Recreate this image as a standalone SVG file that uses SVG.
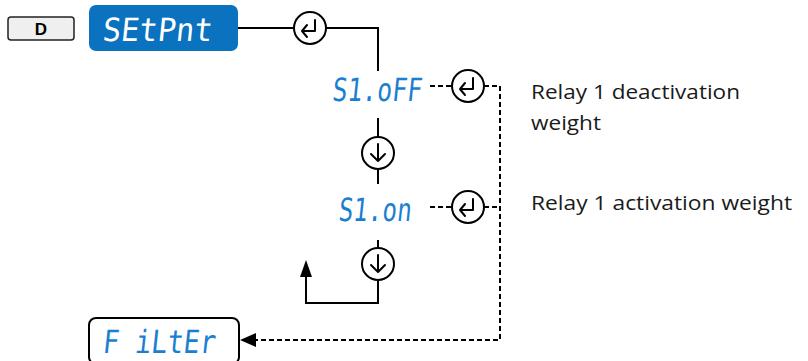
<svg xmlns="http://www.w3.org/2000/svg" width="808" height="361" viewBox="0 0 808 361">
<defs>
<style>
.seg{font-family:"DejaVu Sans Mono","Liberation Mono",monospace;fill:#1b7fd1;font-size:32px;}
.segw{font-family:"DejaVu Sans Mono","Liberation Mono",monospace;fill:#ffffff;font-size:32px;}
.lbl{font-family:"Open Sans",Lato,sans-serif;font-size:19.5px;fill:#1a1a1a;}
.ln{fill:none;stroke:#000;stroke-width:2;}
.dash{fill:none;stroke:#000;stroke-width:2;stroke-dasharray:5 3;}
.btn{fill:#fff;stroke:#000;stroke-width:2;}
.ico{fill:none;stroke:#000;stroke-width:2;stroke-linecap:round;stroke-linejoin:round;}
</style>
<g id="enter"><circle class="btn" cx="0" cy="0" r="16"/><path class="ico" d="M5,-8 V3 H-8 M-3,-3 L-8,3 L-3,9"/></g>
<g id="down"><circle class="btn" cx="0" cy="0" r="16"/><path class="ico" d="M0,-9 V8 M-7,1 L0,8 L7,1"/></g>
</defs>
<rect width="808" height="361" fill="#fff"/>
<g id="connectors">
<path class="ln" d="M238,28 H294 M326,28 H378 V71"/>
<path class="ln" d="M378,118 V137 M378,169 V184"/>
<path class="ln" d="M378,240 V248 M378,280 V303 H306 V276"/>
<path fill="#000" d="M306,260 L300,277 L312,277 Z"/>
<path class="dash" d="M430,86 H452 M484,86 H500 V340 H254"/>
<path class="dash" d="M430,207 H452 M484,207 H500"/>
<path fill="#000" d="M240,340 L256,333 L256,347 Z"/>
</g>
<g id="key-d">
<rect x="8" y="17" width="66" height="23" rx="3" fill="#efefef" stroke="#222" stroke-width="1.5"/>
<text x="41" y="35" text-anchor="middle" font-family="Liberation Sans,Arial,sans-serif" font-weight="bold" font-size="17" fill="#000">D</text>
</g>
<g id="setpnt">
<rect x="89" y="5" width="149" height="46" rx="7" fill="#0a72bf"/>
<text class="segw" x="102" y="41" textLength="110" lengthAdjust="spacingAndGlyphs" transform="skewX(-6) translate(4,0)">SEtPnt</text>
</g>
<g id="enter1"><use href="#enter" x="310" y="28"/></g>
<g id="s1off">
<text class="seg" x="332" y="101" textLength="90" lengthAdjust="spacingAndGlyphs" transform="translate(10,0) skewX(-6)">S1.oFF</text>
</g>
<g id="enter2"><use href="#enter" x="468" y="86"/></g>
<g id="down1"><use href="#down" x="378" y="153"/></g>
<g id="s1on">
<text class="seg" x="339" y="221" textLength="73" lengthAdjust="spacingAndGlyphs" transform="translate(22,0) skewX(-6)">S1.on</text>
</g>
<g id="enter3"><use href="#enter" x="468" y="207"/></g>
<g id="down2"><use href="#down" x="378" y="264"/></g>
<g id="filter">
<rect x="89" y="318" width="150" height="46" rx="7" fill="#fff" stroke="#000" stroke-width="2"/>
<text class="seg" x="102" y="353" textLength="113" lengthAdjust="spacingAndGlyphs" transform="translate(37,0) skewX(-6)">F iLtEr</text>
</g>
<g id="labels">
<text class="lbl" x="531" y="99" textLength="209" lengthAdjust="spacingAndGlyphs">Relay 1 deactivation</text>
<text class="lbl" x="531" y="130" textLength="70" lengthAdjust="spacingAndGlyphs">weight</text>
<text class="lbl" x="531" y="210" textLength="261" lengthAdjust="spacingAndGlyphs">Relay 1 activation weight</text>
</g>
</svg>
